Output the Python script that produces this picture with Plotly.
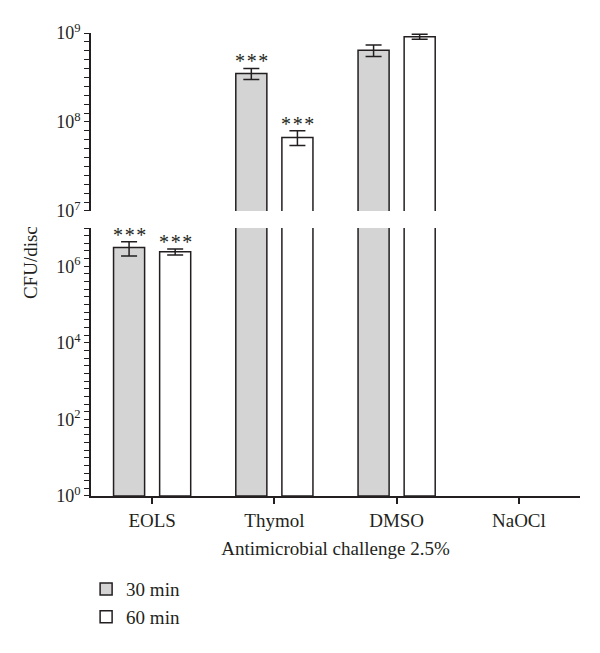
import math
import plotly.graph_objects as go

# ---- data ----
categories = ["EOLS", "Thymol", "DMSO", "NaOCl"]
series_names = ["30 min", "60 min"]
cfu_30 = [3.1e6, 3.5e8, 6.4e8, None]
cfu_60 = [2.4e6, 6.7e7, 9.1e8, None]
err_30 = [1.25e6, 0.5e8, 0.95e8, None]
err_60 = [0.43e6, 1.25e7, 0.6e8, None]
sig_30 = ["***", "***", "", ""]
sig_60 = ["***", "***", "", ""]
break_value = 1e7
bottom_decades = [0, 7]   # lower axis segment, powers of ten
top_decades = [7, 9]      # upper axis segment, powers of ten
bottom_label_every = 2    # label every 2nd decade on the lower segment
top_label_every = 1
bottom_minor_step = 0.2   # decades between ticks, lower segment
top_minor_step = 0.1      # decades between ticks, upper segment

FONT = "Liberation Serif"
INK = "#231f20"
fills = ["#d4d4d4", "#ffffff"]

series = [
    (series_names[0], cfu_30, err_30, sig_30, fills[0]),
    (series_names[1], cfu_60, err_60, sig_60, fills[1]),
]


def lg(v):
    return None if v is None else math.log10(v)


def err_up(v, e):
    return None if v is None or e is None else math.log10(v + e) - math.log10(v)


def err_dn(v, e):
    return None if v is None or e is None else math.log10(v) - math.log10(v - e)


def tick_setup(lo, hi, step, label_every):
    n = int(round((hi - lo) / step))
    vals, texts = [], []
    for k in range(n + 1):
        p = round(lo + k * step, 6)
        vals.append(p)
        is_label = abs(p - round(p)) < 1e-6 and int(round(p)) % label_every == 0
        texts.append("10<sup>%d</sup>" % int(round(p)) if is_label else "")
    return vals, texts


fig = go.Figure()

for name, vals, errs, sig, fill in series:
    ly = [lg(v) for v in vals]
    up = [err_up(v, e) for v, e in zip(vals, errs)]
    dn = [err_dn(v, e) for v, e in zip(vals, errs)]
    in_top = [v is not None and v >= break_value for v in vals]
    fig.add_trace(go.Bar(
        x=categories, y=ly, name=name,
        marker=dict(color=fill, line=dict(color=INK, width=1.5)),
        error_y=dict(type="data", symmetric=False,
                     array=[None if t else u for u, t in zip(up, in_top)],
                     arrayminus=[None if t else d for d, t in zip(dn, in_top)],
                     color=INK, thickness=1.5, width=8),
        xaxis="x", yaxis="y", showlegend=True, hoverinfo="skip",
    ))
    fig.add_trace(go.Bar(
        x=categories, y=[y if t else None for y, t in zip(ly, in_top)], name=name,
        marker=dict(color=fill, line=dict(color=INK, width=1.5)),
        error_y=dict(type="data", symmetric=False,
                     array=[u if t else None for u, t in zip(up, in_top)],
                     arrayminus=[d if t else None for d, t in zip(dn, in_top)],
                     color=INK, thickness=1.5, width=8),
        xaxis="x2", yaxis="y2", showlegend=False, hoverinfo="skip",
    ))

annotations = []
shifts = [-23, 23]
for (name, vals, errs, sig, fill), dx in zip(series, shifts):
    for c, v, e, s in zip(categories, vals, errs, sig):
        if not s or v is None:
            continue
        on_top = v >= break_value
        annotations.append(dict(
            x=c, y=math.log10(v + (e or 0)), xref="x2" if on_top else "x",
            yref="y2" if on_top else "y",
            text="\u200a".join(s), showarrow=False, xshift=dx, yshift=7,
            xanchor="center", yanchor="middle",
            font=dict(family=FONT, size=20, color=INK),
        ))

annotations.append(dict(
    x=-0.125, y=0.505, xref="paper", yref="paper", text="CFU/disc", textangle=-90,
    xanchor="center", yanchor="middle",
    showarrow=False, font=dict(family=FONT, size=19, color=INK),
))

axis_common = dict(showline=True, linecolor=INK, linewidth=1.5, ticks="outside",
                   tickcolor=INK, tickwidth=1.3, ticklen=5, automargin=False,
                   tickfont=dict(family=FONT, size=18, color=INK), showgrid=False, zeroline=False)

bot_vals, bot_text = tick_setup(*bottom_decades, bottom_minor_step, bottom_label_every)
top_vals, top_text = tick_setup(*top_decades, top_minor_step, top_label_every)

BOT_DOM = [0, 0.5788]
TOP_DOM = [0.6156, 1]

fig.update_layout(
    width=600, height=653,
    margin=dict(l=83, r=28, t=25, b=165, autoexpand=False),
    paper_bgcolor="white", plot_bgcolor="white",
    barmode="group", bargap=0.246, bargroupgap=0.326,
    font=dict(family=FONT, size=19, color=INK),
    xaxis=dict(domain=[0, 1], anchor="y", range=[-0.5, 3.5],
               **{**axis_common, "ticklen": 6, "tickwidth": 1.5,
                  "tickfont": dict(family=FONT, size=19, color=INK)},
               title=dict(text="Antimicrobial challenge 2.5%", standoff=12,
                          font=dict(family=FONT, size=19, color=INK))),
    xaxis2=dict(domain=[0, 1], anchor="y2", range=[-0.5, 3.5], matches="x",
                showline=False, showticklabels=False, ticks="", showgrid=False, zeroline=False),
    yaxis=dict(domain=BOT_DOM, type="linear", range=bottom_decades, tickmode="array",
               tickvals=bot_vals, ticktext=bot_text, **axis_common),
    yaxis2=dict(domain=TOP_DOM, type="linear", range=top_decades, tickmode="array",
                tickvals=top_vals, ticktext=top_text, **axis_common),
    legend=dict(x=-0.01, y=-0.16, xanchor="left", yanchor="top", orientation="v",
                font=dict(family=FONT, size=19, color=INK), bgcolor="rgba(0,0,0,0)",
                tracegroupgap=0),
    annotations=annotations,
)

fig.write_html("out.html")
